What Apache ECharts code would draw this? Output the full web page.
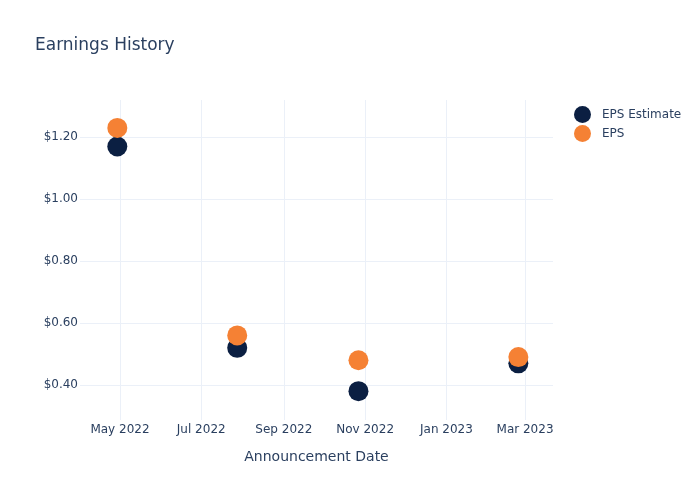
<!DOCTYPE html>
<html><head><meta charset="utf-8">
<script src="https://cdn.jsdelivr.net/npm/echarts@6/dist/echarts.min.js"></script>
<style>html,body{margin:0;padding:0;background:#fff}#c{width:700px;height:500px}</style>
</head><body><div id="c"></div>
<script>
var dates = ['2022-04-29', '2022-07-28', '2022-10-27', '2023-02-24'];
var epsEstimate = [1.17, 0.52, 0.38, 0.47];
var epsActual = [1.23, 0.56, 0.48, 0.49];
var xTickDates = ['2022-05-01', '2022-07-01', '2022-09-01', '2022-11-01', '2023-01-01', '2023-03-01'];
var xTickLabels = ['May 2022', 'Jul 2022', 'Sep 2022', 'Nov 2022', 'Jan 2023', 'Mar 2023'];
var yTicks = [0.4, 0.6, 0.8, 1.0, 1.2];

function ts(s) { var p = s.split('-'); return Date.UTC(+p[0], +p[1] - 1, +p[2]); }
var xTickTs = xTickDates.map(ts);
var font = 'DejaVu Sans';
var txt = '#2a3f5f';
var chart = echarts.init(document.getElementById('c'), null, {renderer: 'canvas'});
chart.setOption({
  animation: false,
  backgroundColor: '#fff',
  textStyle: {fontFamily: font},
  title: {text: 'Earnings History', left: 30, top: 32,
    textStyle: {fontFamily: font, fontSize: 17, fontWeight: 'normal', color: txt}},
  legend: {orient: 'vertical', left: 569, top: 101, itemWidth: 17, itemHeight: 17, itemGap: 2,
    icon: 'circle', textStyle: {fontFamily: font, fontSize: 12, color: txt, padding: [0, 0, 0, 6]},
    data: ['EPS Estimate', 'EPS']},
  grid: {left: 80, right: 147, top: 100, bottom: 80, containLabel: false},
  xAxis: {
    type: 'value', min: ts('2022-04-01'), max: ts('2023-03-22'), scale: true,
    name: 'Announcement Date', nameLocation: 'middle', nameGap: 30,
    nameTextStyle: {fontFamily: font, fontSize: 14, color: txt},
    axisLine: {show: false}, axisTick: {show: false, customValues: xTickTs},
    axisLabel: {customValues: xTickTs, fontFamily: font, fontSize: 12, color: txt, margin: 4,
      formatter: function (v) { var i = xTickTs.indexOf(v); return i >= 0 ? xTickLabels[i] : ''; }},
    splitLine: {show: true, lineStyle: {color: '#ebf0f8', width: 1}}
  },
  yAxis: {
    type: 'value', min: 0.287, max: 1.32,
    axisLine: {show: false}, axisTick: {show: false, customValues: yTicks},
    axisLabel: {customValues: yTicks, fontFamily: font, fontSize: 12, color: txt, margin: 2,
      formatter: function (v) { return '$' + v.toFixed(2); }},
    splitLine: {show: true, lineStyle: {color: '#ebf0f8', width: 1}}
  },
  series: [
    {name: 'EPS Estimate', type: 'scatter', symbolSize: 20, itemStyle: {color: '#0b1f42', opacity: 1},
      data: dates.map(function (d, i) { return [ts(d), epsEstimate[i]]; })},
    {name: 'EPS', type: 'scatter', symbolSize: 20, itemStyle: {color: '#f58134', opacity: 1},
      data: dates.map(function (d, i) { return [ts(d), epsActual[i]]; })}
  ]
});
</script></body></html>
